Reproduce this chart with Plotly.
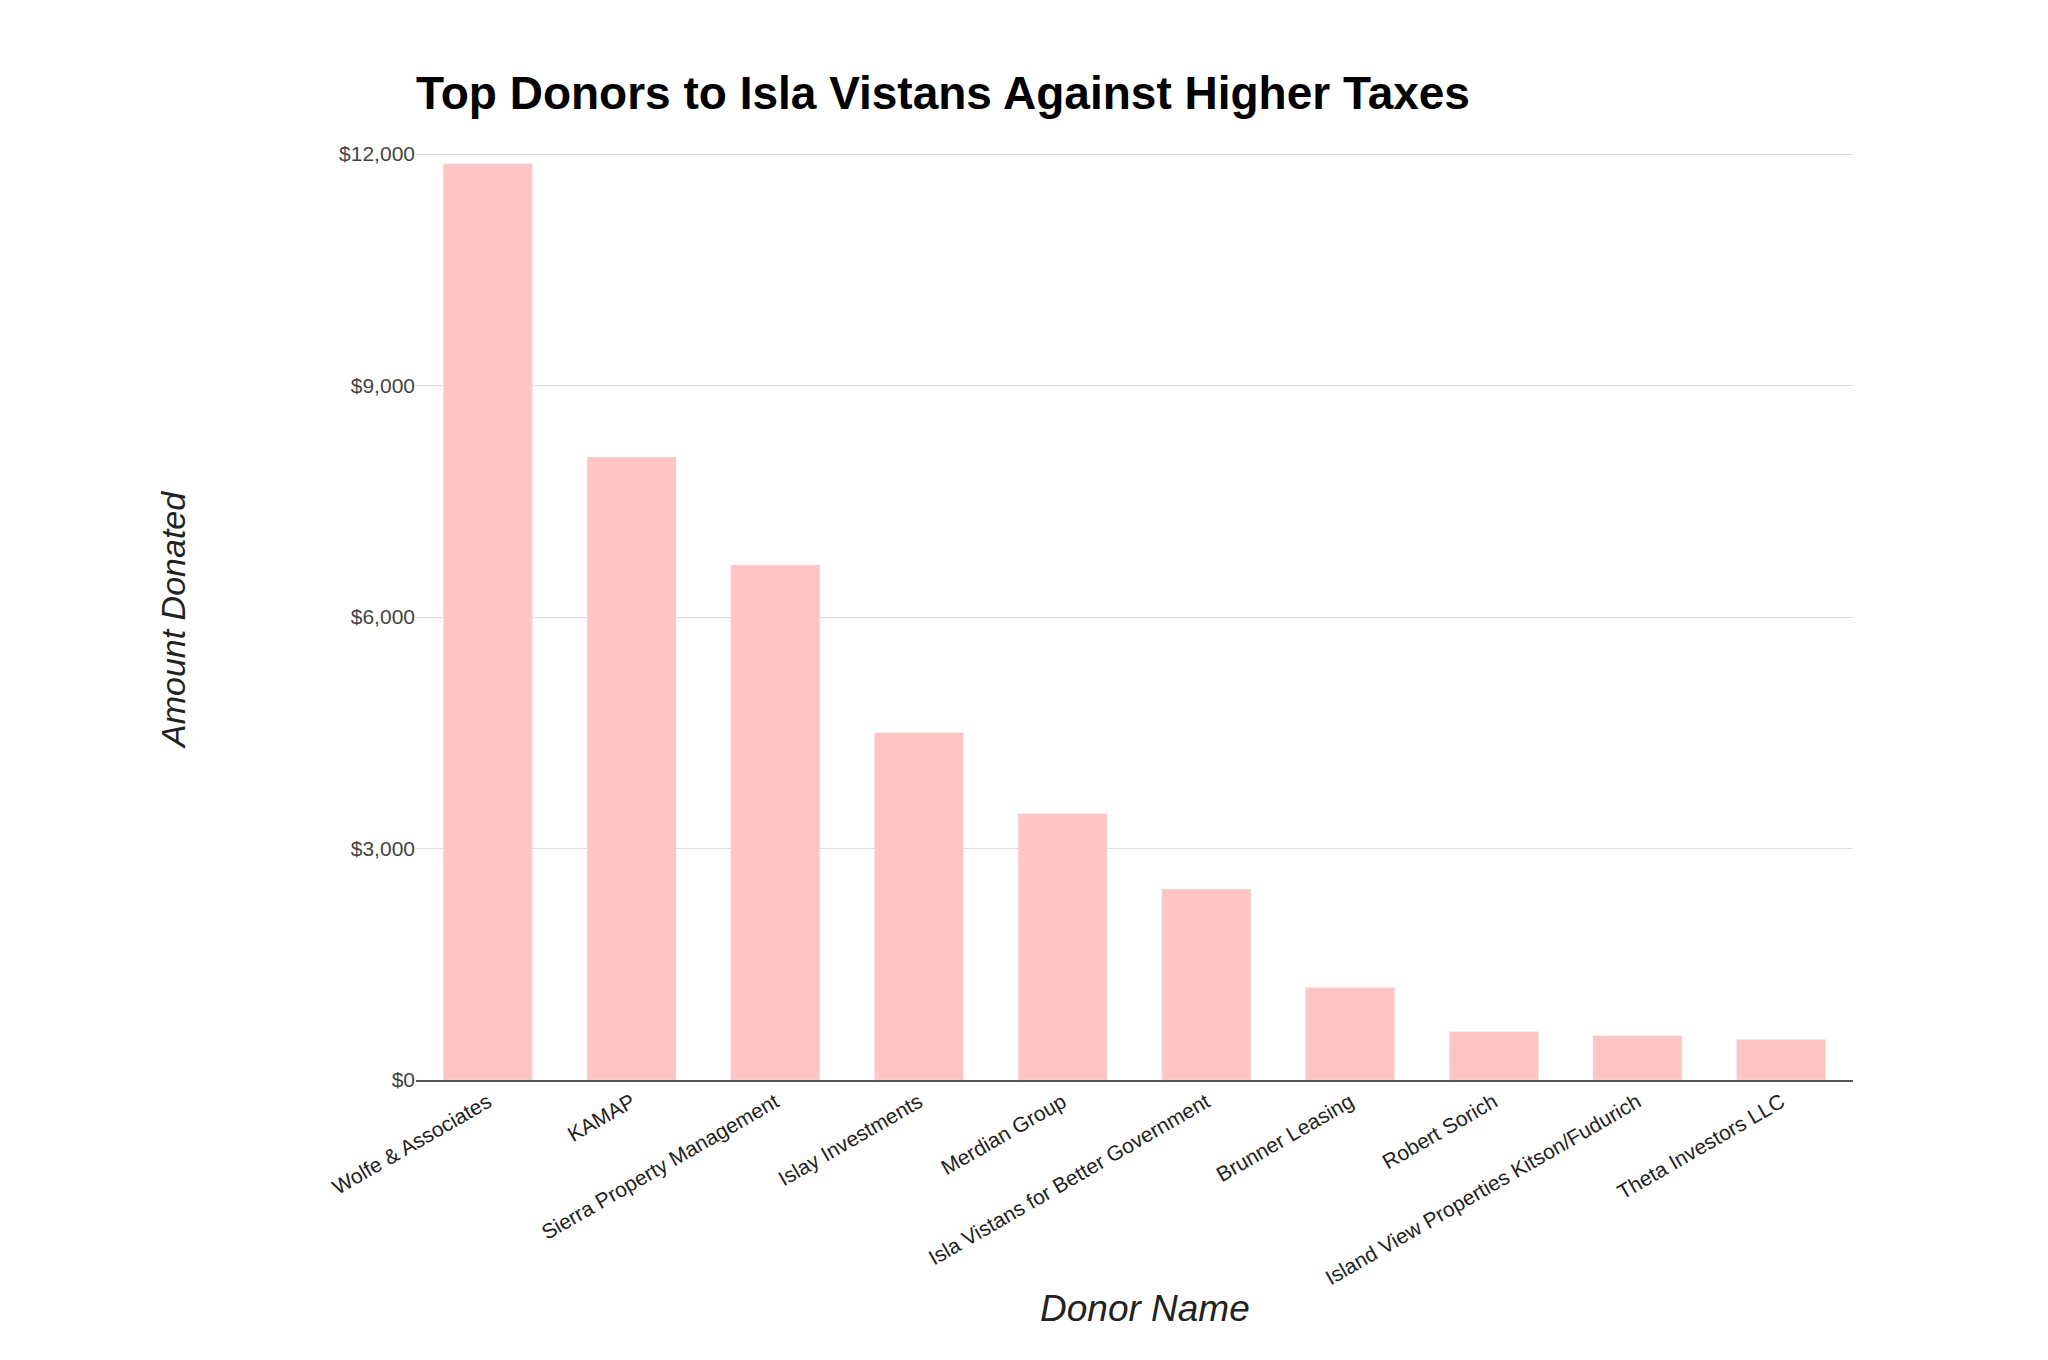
import plotly.graph_objects as go

donors = ["Wolfe & Associates", "KAMAP", "Sierra Property Management", "Islay Investments",
          "Merdian Group", "Isla Vistans for Better Government", "Brunner Leasing",
          "Robert Sorich", "Island View Properties Kitson/Fudurich", "Theta Investors LLC"]
amounts = [11875, 8075, 6675, 4500, 3450, 2475, 1200, 625, 575, 525]
y_ticks = [0, 3000, 6000, 9000, 12000]
y_tick_labels = ["$0", "$3,000", "$6,000", "$9,000", "$12,000"]

L, R, T, B = 408, 1845, 143, 1072
W, H = 2048, 1360

def px(x):
    return (x - L) / (R - L)

def py(y):
    return (B - y) / (B - T)

fig = go.Figure(go.Bar(x=donors, y=amounts, marker_color="#ffc4c4"))
fig.update_layout(
    width=W, height=H, paper_bgcolor="white", plot_bgcolor="white",
    font=dict(family="Liberation Sans, Arial", color="#444"),
    margin=dict(l=L, r=W - R, t=T, b=H - B),
    bargap=0.38, showlegend=False,
    title=dict(text="<b>Top Donors to Isla Vistans Against Higher Taxes</b>",
               x=L / W, xanchor="left", y=1 - 85 / H, yanchor="middle",
               font=dict(size=46, color="black")),
)
fig.update_yaxes(range=[0, 12040], tickvals=y_ticks, ticktext=y_tick_labels,
                 gridcolor="#dddddd", tickfont=dict(size=21), zeroline=False)
fig.update_xaxes(tickangle=-30, tickfont=dict(size=21, color="#222"),
                 showline=True, linecolor="#555", linewidth=1.5)
fig.add_annotation(text="<i>Amount Donated</i>", textangle=-90, x=px(144), y=py(612),
                   xref="paper", yref="paper", showarrow=False,
                   font=dict(size=34, color="#222"))
fig.add_annotation(text="<i>Donor Name</i>", x=px(1137), y=py(1323),
                   xref="paper", yref="paper", showarrow=False,
                   font=dict(size=37, color="#222"))
fig.write_html("out.html")
